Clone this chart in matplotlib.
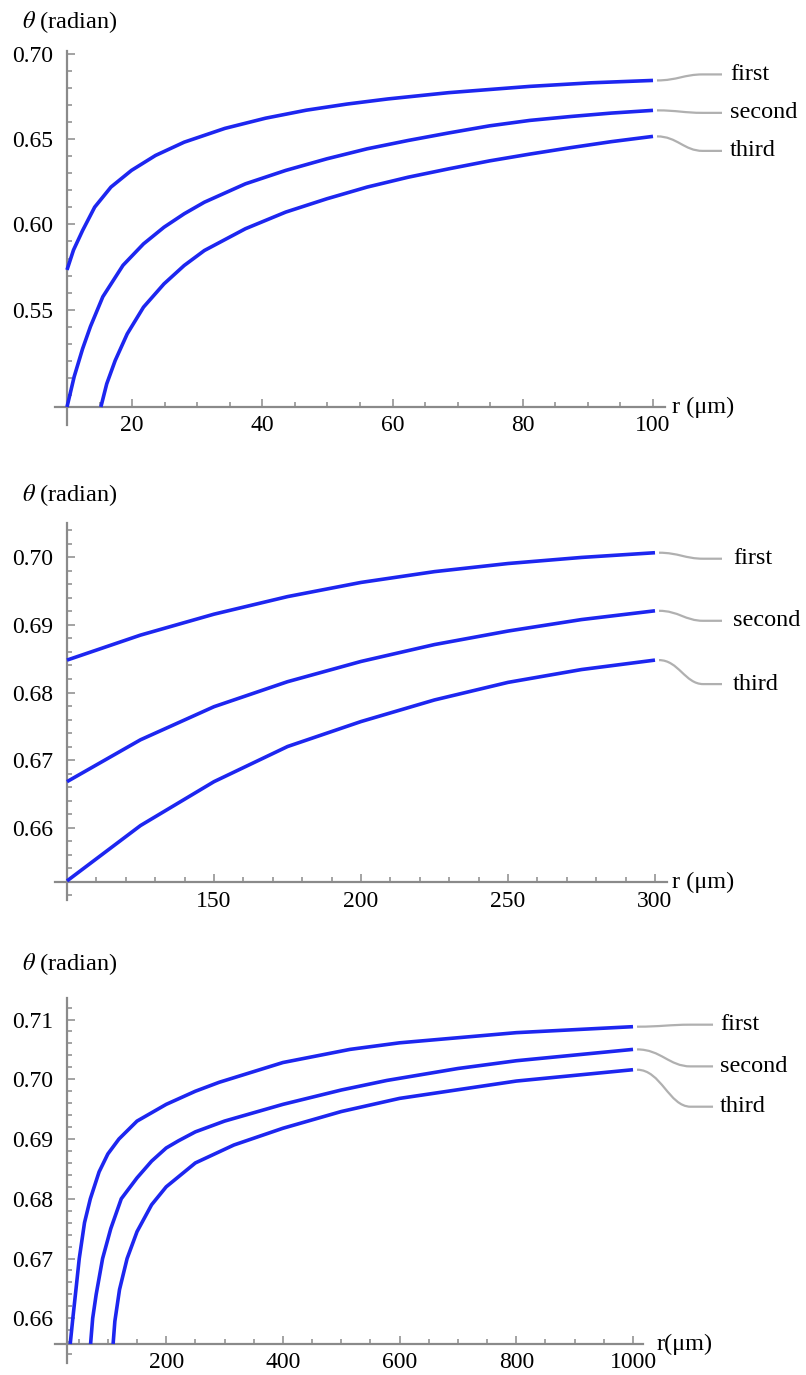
import numpy as np
import matplotlib
matplotlib.use("Agg")
import matplotlib.pyplot as plt
from matplotlib.path import Path
from matplotlib.patches import PathPatch
from matplotlib.transforms import ScaledTranslation
from matplotlib.ticker import FormatStrFormatter

plt.rcParams['font.family'] = ['Liberation Serif', 'DejaVu Serif']
plt.rcParams['mathtext.fontset'] = 'stix'

# ---------------- data ----------------
labels = ["first", "second", "third"]

# panel 1 : r from 10 to 100
p1_first_r = [10, 11, 12.4, 14.25, 16.75, 19.9, 23.6, 28, 34.25, 40.5, 46.75, 53, 59.25, 68.6, 81.1, 90.5, 100]
p1_first_t = [0.5733, 0.5850, 0.5965, 0.6102, 0.6220, 0.6318, 0.6406, 0.6484, 0.6565, 0.6625, 0.6672, 0.6708, 0.6738, 0.6775, 0.6812, 0.6833, 0.6847]
p1_second_r = [10, 11.1, 12.4, 13.6, 15.5, 18.6, 21.75, 24.9, 28, 31.1, 37.4, 43.6, 49.9, 56.1, 62.4, 68.6, 74.9, 81.1, 87.4, 93.6, 100]
p1_second_t = [0.4927, 0.5105, 0.5270, 0.5400, 0.5575, 0.5760, 0.5886, 0.5984, 0.6063, 0.6131, 0.6239, 0.6318, 0.6386, 0.6445, 0.6494, 0.6538, 0.6580, 0.6612, 0.6635, 0.6655, 0.6671]
p1_third_r = [15.2, 16.1, 17.4, 19.25, 21.75, 24.9, 28, 31.1, 37.4, 43.6, 49.9, 56.1, 62.4, 68.6, 74.9, 81.1, 87.4, 93.6, 100]
p1_third_t = [0.4927, 0.5063, 0.5200, 0.5357, 0.5514, 0.5651, 0.5759, 0.5847, 0.5975, 0.6073, 0.6151, 0.6220, 0.6278, 0.6327, 0.6374, 0.6414, 0.6452, 0.6487, 0.6518]

# panel 2 : r from 100 to 300
p2_r = [100, 125, 150, 175, 200, 225, 250, 275, 300]
p2_first_t = [0.6848, 0.6885, 0.6916, 0.6942, 0.6963, 0.6979, 0.6991, 0.7000, 0.7007]
p2_second_t = [0.6668, 0.6730, 0.6779, 0.6816, 0.6846, 0.6871, 0.6891, 0.6908, 0.6921]
p2_third_t = [0.6521, 0.6603, 0.6668, 0.6720, 0.6757, 0.6789, 0.6815, 0.6834, 0.6848]

# panel 3 : r up to 1000
p3_first_r = [35.5, 40, 45, 51, 60, 70, 85, 100, 119, 150, 200, 250, 291, 400, 515, 600, 800, 1000]
p3_first_t = [0.6557, 0.6600, 0.6645, 0.6700, 0.6760, 0.6800, 0.6845, 0.6875, 0.6900, 0.6930, 0.6958, 0.6980, 0.6995, 0.7028, 0.7050, 0.7061, 0.7078, 0.7088]
p3_second_r = [70.4, 74, 80, 91, 105, 123, 150, 175, 200, 221, 250, 300, 400, 500, 578, 700, 800, 1000]
p3_second_t = [0.6557, 0.6600, 0.6640, 0.6700, 0.6750, 0.6800, 0.6835, 0.6863, 0.6885, 0.6897, 0.6912, 0.6930, 0.6958, 0.6982, 0.6998, 0.7018, 0.7031, 0.7050]
p3_third_r = [109, 112, 120, 133, 150, 175, 200, 250, 316, 400, 500, 600, 800, 1000]
p3_third_t = [0.6557, 0.6595, 0.6648, 0.6700, 0.6745, 0.6790, 0.6820, 0.6860, 0.6890, 0.6918, 0.6946, 0.6968, 0.6997, 0.7016]

# axis ticks
p1_xmajor = [20, 40, 60, 80, 100]
p1_xminor = [15, 25, 30, 35, 45, 50, 55, 65, 70, 75, 85, 90, 95]
p1_ymajor = [0.55, 0.60, 0.65, 0.70]
p2_xmajor = [150, 200, 250, 300]
p2_ymajor = [0.66, 0.67, 0.68, 0.69, 0.70]
p3_xmajor = [200, 400, 600, 800, 1000]
p3_ymajor = [0.66, 0.67, 0.68, 0.69, 0.70, 0.71]

# ---------------- style ----------------
W, H = 806, 1375
fig = plt.figure(figsize=(W / 100, H / 100), dpi=100)
BLUE = '#1d26f0'
GRAY = '#8a8a8a'
LEADER = '#b0b0b0'
TICKFS = 17
TXTFS = 17.5


def make_axes(px_left, px_right, px_top, px_bottom):
    return fig.add_axes([px_left / W, 1 - px_bottom / H,
                         (px_right - px_left) / W, (px_bottom - px_top) / H])


def style(ax, x0, y0, xlim, ylim, xmaj, xmin, ymaj, ymin, ylab_dy, xlab_dx, xlabel):
    ax.set_xlim(*xlim)
    ax.set_ylim(*ylim)
    for s in ['top', 'right']:
        ax.spines[s].set_visible(False)
    ax.spines['left'].set_position(('data', x0))
    ax.spines['bottom'].set_position(('data', y0))
    for s in ['left', 'bottom']:
        ax.spines[s].set_color(GRAY)
        ax.spines[s].set_linewidth(1.6)
    ax.set_xticks(xmaj)
    ax.set_xticks(xmin, minor=True)
    ax.set_yticks(ymaj)
    ax.set_yticks(ymin, minor=True)
    ax.yaxis.set_major_formatter(FormatStrFormatter('%.2f'))
    ax.tick_params(which='both', direction='in', color=GRAY, width=1.1,
                   labelsize=TICKFS, labelcolor='black')
    ax.tick_params(which='major', length=6)
    ax.tick_params(which='minor', length=3.5)
    ax.tick_params(axis='y', which='major', pad=10)
    ax.tick_params(axis='x', which='major', pad=6)
    ax.patch.set_alpha(0)
    ax.annotate(r'$\theta$ (radian)', xy=(0, 1), xycoords='axes fraction',
                xytext=(-33, ylab_dy), textcoords='offset pixels',
                ha='left', va='center', fontsize=TXTFS)
    ax.annotate(xlabel, xy=(1, y0), xycoords=('axes fraction', 'data'),
                xytext=(xlab_dx, 0), textcoords='offset pixels',
                ha='left', va='center', fontsize=TXTFS)


def leader(ax, xe, ye, dy, length, text_dx, name):
    L = length
    verts = [(4, 0), (L * 0.35, 0), (L * 0.45, dy), (L * 0.72, dy), (L, dy)]
    codes = [Path.MOVETO, Path.CURVE4, Path.CURVE4, Path.CURVE4, Path.LINETO]
    verts = [(vx / 100.0, vy / 100.0) for vx, vy in verts]
    tr = fig.dpi_scale_trans + ScaledTranslation(xe, ye, ax.transData)
    ax.add_patch(PathPatch(Path(verts, codes), transform=tr, fill=False,
                           edgecolor=LEADER, lw=1.6, clip_on=False))
    ax.annotate(name, xy=(xe, ye), xycoords='data', xytext=(text_dx, dy),
                textcoords='offset pixels', ha='left', va='center',
                fontsize=TXTFS)


# ---------------- panel 1 ----------------
ax1 = make_axes(55, 665, 51, 425)
style(ax1, 10, 0.4927, (8.157, 101.843), (0.48211, 0.702),
      p1_xmajor, p1_xminor, p1_ymajor,
      [v for v in np.round(np.arange(0.50, 0.705, 0.01), 3) if v not in p1_ymajor],
      29, 7, 'r (μm)')
series1 = [(p1_first_r, p1_first_t), (p1_second_r, p1_second_t), (p1_third_r, p1_third_t)]
for r, t in series1:
    ax1.plot(r, t, color=BLUE, lw=2.6, solid_capstyle='butt', solid_joinstyle='round', zorder=3)
for (r, t), name, dy in zip(series1, labels, [6, -2.5, -14.5]):
    leader(ax1, r[-1], t[-1], dy, 69, 77, name)

# ---------------- panel 2 ----------------
ax2 = make_axes(55, 667, 523, 900.3)
style(ax2, 100, 0.6519, (95.918, 304.082), (0.649233, 0.7051),
      p2_xmajor, list(range(110, 300, 10)), p2_ymajor,
      list(np.round(np.arange(0.650, 0.7051, 0.002), 3)),
      28, 5, 'r (μm)')
series2 = [(p2_r, p2_first_t), (p2_r, p2_second_t), (p2_r, p2_third_t)]
for r, t in series2:
    ax2.plot(r, t, color=BLUE, lw=2.6, solid_capstyle='butt', solid_joinstyle='round', zorder=3)
for (r, t), name, dy in zip(series2, labels, [-6, -10, -24]):
    leader(ax2, r[-1], t[-1], dy, 67, 78, name)

# ---------------- panel 3 ----------------
ax3 = make_axes(55, 643, 998, 1363)
style(ax3, 30, 0.6557, (9.43, 1017.1), (0.652516, 0.7136),
      p3_xmajor, list(range(50, 1000, 50)), p3_ymajor,
      list(np.round(np.arange(0.654, 0.7136, 0.002), 3)),
      34, 14, 'r(μm)')
series3 = [(p3_first_r, p3_first_t), (p3_second_r, p3_second_t), (p3_third_r, p3_third_t)]
for r, t in series3:
    ax3.plot(r, t, color=BLUE, lw=2.6, solid_capstyle='butt', solid_joinstyle='round', zorder=3)
for (r, t), name, dy in zip(series3, labels, [2, -17, -37]):
    leader(ax3, r[-1], t[-1], dy, 80, 87, name)

fig.savefig('out.png', dpi=100)
